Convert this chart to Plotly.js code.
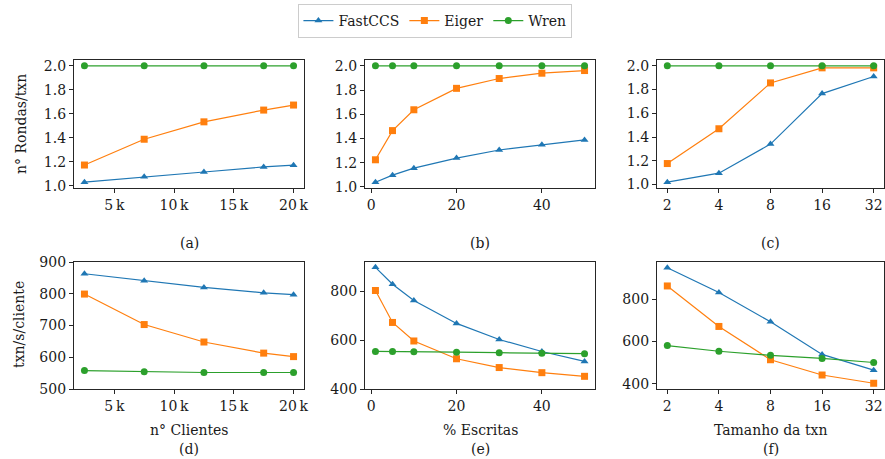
<!DOCTYPE html>
<html>
<head>
<meta charset="utf-8">
<script src="https://cdn.plot.ly/plotly-3.0.1.min.js"></script>
<style>html,body{margin:0;padding:0;background:#fff;}#chart{width:885px;height:459px;}</style>
</head>
<body>
<div id="chart"></div>
<script>
// ---- data ----
const seriesNames = ['FastCCS', 'Eiger', 'Wren'];

const clients = [2500, 7500, 12500, 17500, 20000];
const writesPct = [1, 5, 10, 20, 30, 40, 50];
const txnSize = [2, 4, 8, 16, 32];

// (a) rounds per txn vs clients
const roundsClientsFast = [1.03, 1.075, 1.115, 1.157, 1.172];
const roundsClientsEiger = [1.173, 1.388, 1.533, 1.631, 1.673];
const roundsClientsWren = [2.0, 2.0, 2.0, 2.0, 2.0];

// (b) rounds per txn vs % writes
const roundsWritesFast = [1.039, 1.097, 1.155, 1.238, 1.305, 1.349, 1.388];
const roundsWritesEiger = [1.224, 1.465, 1.637, 1.814, 1.895, 1.939, 1.961];
const roundsWritesWren = [2.0, 2.0, 2.0, 2.0, 2.0, 2.0, 2.0];

// (c) rounds per txn vs txn size
const roundsSizeFast = [1.02, 1.096, 1.341, 1.766, 1.91];
const roundsSizeEiger = [1.177, 1.47, 1.856, 1.983, 1.983];
const roundsSizeWren = [2.0, 2.0, 2.0, 2.0, 2.0];

// (d) throughput per client vs clients
const tputClientsFast = [863, 841, 820, 803, 797];
const tputClientsEiger = [799, 703, 648, 613, 602];
const tputClientsWren = [558, 554, 552, 552, 552];

// (e) throughput per client vs % writes
const tputWritesFast = [899, 830, 763, 669, 603, 554, 513];
const tputWritesEiger = [804, 673, 597, 524, 488, 467, 452];
const tputWritesWren = [554, 554, 553, 551, 549, 547, 545];

// (f) throughput per client vs txn size
const tputSizeFast = [948, 831, 693, 539, 465];
const tputSizeEiger = [862, 671, 514, 442, 403];
const tputSizeWren = [581, 554, 535, 520, 501];

const clientTickVals = [5000, 10000, 15000, 20000];
const clientTickText = ['5\u2009k', '10\u2009k', '15\u2009k', '20\u2009k'];
const writesTickVals = [0, 20, 40];
const sizeTickVals = [2, 4, 8, 16, 32];
const panelLabels = ['(a)', '(b)', '(c)', '(d)', '(e)', '(f)'];
const xTitles = ['n° Clientes', '% Escritas', 'Tamanho da txn'];
const yTitles = ['n° Rondas/txn', 'txn/s/cliente'];

// ---- styles ----
const colors = ['#1f77b4', '#ff7f0e', '#2ca02c'];
const symbols = ['triangle-up', 'square', 'circle'];
const msizes = [7, 7, 7];
const FONT = 'DejaVu Serif';
const FS = 14;
const W = 885, H = 459;

const panels = [
  {x: clients, ys: [roundsClientsFast, roundsClientsEiger, roundsClientsWren]},
  {x: writesPct, ys: [roundsWritesFast, roundsWritesEiger, roundsWritesWren]},
  {x: txnSize, ys: [roundsSizeFast, roundsSizeEiger, roundsSizeWren]},
  {x: clients, ys: [tputClientsFast, tputClientsEiger, tputClientsWren]},
  {x: writesPct, ys: [tputWritesFast, tputWritesEiger, tputWritesWren]},
  {x: txnSize, ys: [tputSizeFast, tputSizeEiger, tputSizeWren]},
];

const traces = [];
panels.forEach((p, i) => {
  const ax = i === 0 ? '' : String(i + 1);
  p.ys.forEach((y, s) => {
    traces.push({
      type: 'scatter', mode: 'lines+markers',
      x: p.x, y: y, name: seriesNames[s],
      xaxis: 'x' + ax, yaxis: 'y' + ax,
      showlegend: i === 0,
      legendgroup: seriesNames[s],
      line: {color: colors[s], width: 1.2},
      marker: {color: colors[s], symbol: symbols[s], size: msizes[s]},
      cliponaxis: false
    });
  });
});

// pixel boxes
const colX = [[74, 304], [365, 595], [657, 884]];
const rowY = [[60, 188], [262, 389]];
const px2x = v => v / W;
const py2y = v => 1 - v / H;

const baseAxis = {
  showgrid: false, zeroline: false, showline: true, mirror: true,
  linecolor: '#262626', linewidth: 1.1,
  ticks: 'outside', ticklen: 4, tickwidth: 1, tickcolor: '#262626',
  tickfont: {family: FONT, size: FS, color: '#1a1a1a'},
  automargin: false, fixedrange: true
};

const log2 = Math.log10(2);
const xRanges = [[1625, 20875], [-1.45, 52.45], [0.8 * log2, 5.2 * log2]];
const yRanges = [[0.9815, 2.0485], [0.991, 2.048], [0.971, 2.049], [500, 900], [400, 921], [376, 975]];

const layout = {
  width: W, height: H,
  margin: {l: 0, r: 0, t: 0, b: 0},
  paper_bgcolor: '#fff', plot_bgcolor: '#fff',
  font: {family: FONT, size: FS, color: '#1a1a1a'},
  showlegend: true,
  legend: {
    orientation: 'h', x: 0.492, xanchor: 'center', y: 1 - 4 / H, yanchor: 'top',
    bordercolor: '#cccccc', borderwidth: 1, bgcolor: '#fff',
    font: {family: FONT, size: FS, color: '#1a1a1a'},
    itemwidth: 30, tracegroupgap: 0
  },
  annotations: []
};

for (let i = 0; i < 6; i++) {
  const ax = i === 0 ? '' : String(i + 1);
  const col = i % 3, row = Math.floor(i / 3);
  const xa = Object.assign({}, baseAxis, {
    domain: [px2x(colX[col][0]), px2x(colX[col][1])],
    anchor: 'y' + ax, range: xRanges[col]
  });
  if (col === 0) { xa.tickvals = clientTickVals; xa.ticktext = clientTickText; }
  if (col === 1) { xa.tickvals = writesTickVals; }
  if (col === 2) { xa.type = 'log'; xa.tickvals = sizeTickVals; xa.ticktext = sizeTickVals.map(String); }
  const ya = Object.assign({}, baseAxis, {
    domain: [py2y(rowY[row][1]), py2y(rowY[row][0])],
    anchor: 'x' + ax, range: yRanges[i]
  });
  if (row === 0) { ya.tickvals = [1.0, 1.2, 1.4, 1.6, 1.8, 2.0]; ya.tickformat = '.1f'; }
  else if (i === 3) { ya.tickvals = [500, 600, 700, 800, 900]; }
  else { ya.tickvals = [400, 600, 800]; }
  layout['xaxis' + ax] = xa;
  layout['yaxis' + ax] = ya;

  const cx = (colX[col][0] + colX[col][1]) / 2;
  layout.annotations.push({
    text: panelLabels[i], xref: 'paper', yref: 'paper',
    x: px2x(cx), y: py2y(row === 0 ? 243 : 449),
    xanchor: 'center', yanchor: 'middle', showarrow: false,
    font: {family: FONT, size: FS, color: '#1a1a1a'}
  });
  if (row === 1) {
    layout.annotations.push({
      text: xTitles[col], xref: 'paper', yref: 'paper',
      x: px2x(cx), y: py2y(430),
      xanchor: 'center', yanchor: 'middle', showarrow: false,
      font: {family: FONT, size: FS, color: '#1a1a1a'}
    });
  }
}
layout.annotations.push({
  text: yTitles[0], xref: 'paper', yref: 'paper', x: px2x(21), y: py2y(124),
  xanchor: 'center', yanchor: 'middle', textangle: -90, showarrow: false,
  font: {family: FONT, size: FS, color: '#1a1a1a'}
});
layout.annotations.push({
  text: yTitles[1], xref: 'paper', yref: 'paper', x: px2x(19), y: py2y(325),
  xanchor: 'center', yanchor: 'middle', textangle: -90, showarrow: false,
  font: {family: FONT, size: FS, color: '#1a1a1a'}
});

Plotly.newPlot('chart', traces, layout, {staticPlot: true, displayModeBar: false});
</script>
</body>
</html>
